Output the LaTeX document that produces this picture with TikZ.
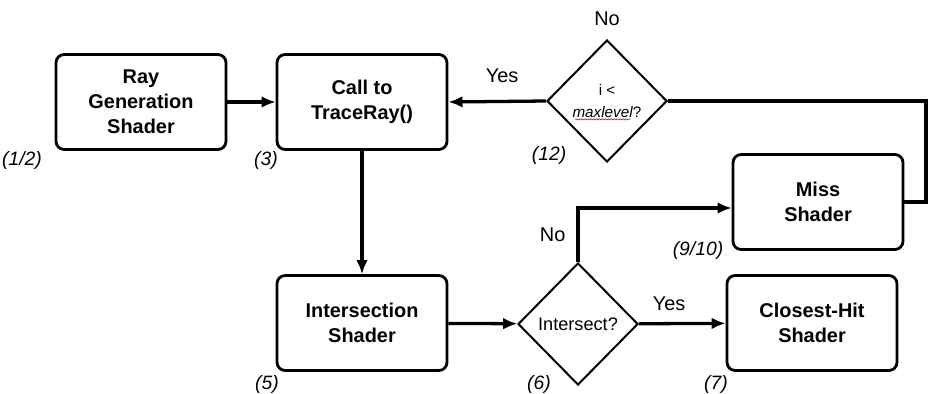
\documentclass[tikz,border=0pt]{standalone}
\usepackage{fontspec}
\setmainfont{Liberation Sans}
\usetikzlibrary{positioning, arrows.meta, shapes.geometric, decorations.pathmorphing}

\begin{document}
\begin{tikzpicture}[x=0.03cm, y=-0.03cm, >={Latex[length=12pt, width=10pt]},
    shaderbox/.style={draw, line width=2.4pt, rounded corners=7pt, minimum width=5.1cm, minimum height=2.85cm, align=center, font=\fontsize{17}{21.5}\selectfont\bfseries},
    decision/.style={draw, diamond, line width=1.7pt, inner sep=0pt, minimum width=3.6cm, minimum height=3.66cm, align=center},
    flow/.style={line width=2.8pt},
    answer/.style={font=\fontsize{17}{20}\selectfont},
    stepno/.style={font=\fontsize{16.5}{20}\selectfont\itshape}]

\useasboundingbox (0,0) rectangle (931,393);

% Shaders
\node[shaderbox] (raygen) at (141,102) {Ray\\Generation\\Shader};
\node[shaderbox] (trace) at (362,102) {Call to\\TraceRay()};
\node[shaderbox] (isect) at (362,323) {Intersection\\Shader};
\node[shaderbox] (closest) at (812,323) {Closest-Hit\\Shader};
\node[shaderbox] (miss) at (818,202) {Miss\\Shader};

% Tests
\node[decision, font=\fontsize{15.5}{18}\selectfont] (hit) at (578,324) {Intersect?};
\node[decision, font=\fontsize{13}{19}\selectfont] (maxlvl) at (607,101) {i <\\\textit{maxlevel}?};
\draw[red!80!black, line width=0.5pt, decorate, decoration={snake, amplitude=0.5pt, segment length=2.5pt}]
    ([xshift=-0.95cm, yshift=-0.55cm]maxlvl.center) -- ([xshift=0.7cm, yshift=-0.55cm]maxlvl.center);

% Connectors
\coordinate (loop) at (926,101);
\draw[flow, ->] (raygen) -- (trace);
\draw[flow, ->] (trace) -- (isect);
\draw[flow, ->] (isect) -- (hit);
\draw[flow, ->] (hit) -- (closest) node[answer, pos=0.35, above=6pt] {Yes};
\draw[flow, ->] (hit.north) |- ([yshift=-0.18cm]miss.west) node[answer, pos=0.25, left=6pt] {No};
\draw[flow] (miss.east) -| (loop) -- (maxlvl.east);
\draw[flow, ->] (maxlvl.west) -- (trace.east) node[answer, pos=0.45, above=11pt] {Yes};
\node[answer, above=8pt of maxlvl.north] (nolabel) {No};

% Step numbers
\node[stepno] (s12) at (22,160) {(1/2)};
\node[stepno] (s3) at (266,160) {(3)};
\node[stepno] (s12b) at (549,155) {(12)};
\node[stepno] (s910) at (698,250) {(9/10)};
\node[stepno] (s5) at (267,384) {(5)};
\node[stepno] (s6) at (539,384) {(6)};
\node[stepno] (s7) at (716,384) {(7)};

\end{tikzpicture}
\end{document}
